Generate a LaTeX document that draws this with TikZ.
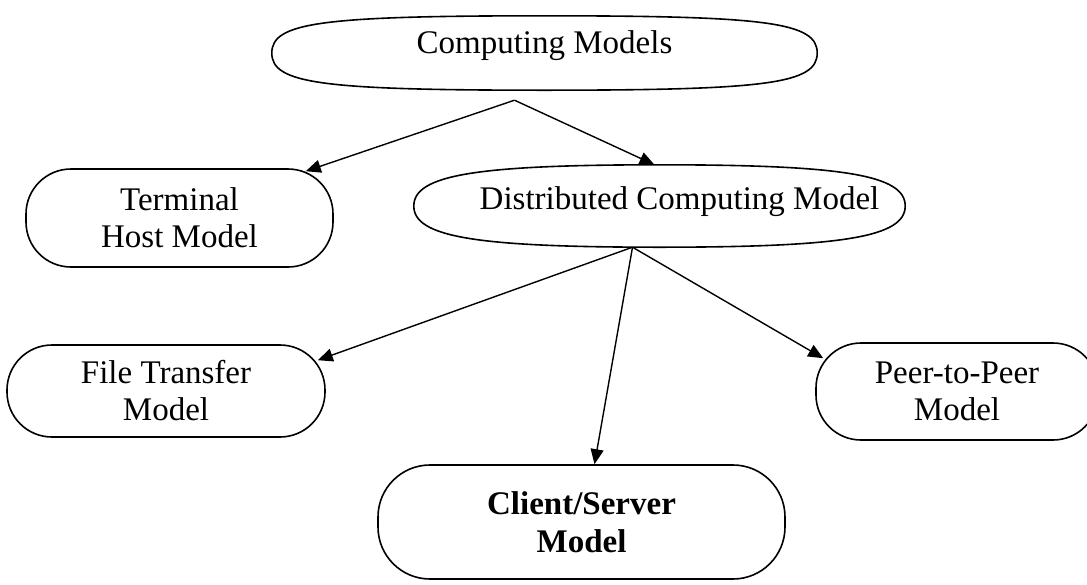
\documentclass[tikz,border=0pt]{standalone}
\usepackage{fontspec}
\setmainfont{Liberation Serif}
\usetikzlibrary{arrows.meta,calc}
\tikzset{
  txt/.style={font=\fontsize{33}{37}\selectfont, align=center, inner sep=0pt},
  pill/.style={txt, draw, line width=1.6pt, rounded corners=45pt},
  ovalbox/.style={txt, draw=none},
  conn/.style={line width=1.4pt, -{Triangle[length=15pt,width=13pt]}},
  outline/.style={line width=1.6pt},
}
\newcommand\superoval[2]{%
  \draw[outline] (#1.west)
    .. controls ($(#1.west)!#2!(#1.north west)$) and ($(#1.north)!#2!(#1.north west)$) .. (#1.north)
    .. controls ($(#1.north)!#2!(#1.north east)$) and ($(#1.east)!#2!(#1.north east)$) .. (#1.east)
    .. controls ($(#1.east)!#2!(#1.south east)$) and ($(#1.south)!#2!(#1.south east)$) .. (#1.south)
    .. controls ($(#1.south)!#2!(#1.south west)$) and ($(#1.west)!#2!(#1.south west)$) .. (#1.west) -- cycle;}
\begin{document}
\begin{tikzpicture}[x=1pt,y=-1pt]
\useasboundingbox (0,0) rectangle (1087,584);
% oval outlines (invisible boxes carry the names)
\node[ovalbox, minimum width=545pt, minimum height=74pt] (cm) at (544.5,53) {};
\node[ovalbox, minimum width=491pt, minimum height=82pt] (dcm) at (659.5,206) {};
\superoval{cm}{0.82}
\superoval{dcm}{0.75}
\node[txt] (cmtext) at ($(cm.center)+(0,-7)$) {Computing Models};
\node[txt] (dcmtext) at ($(dcm.center)+(20,-4)$) {Distributed Computing Model};
% pills
\node[pill, minimum width=307pt, minimum height=98pt] (th) at (179.5,218) {Terminal\\Host Model};
\node[pill, minimum width=318pt, minimum height=92pt] (ftm) at (166,391) {File Transfer\\Model};
\node[pill, minimum width=282pt, minimum height=97pt] (ppm) at (957,391.5) {Peer-to-Peer\\Model};
\node[pill, minimum width=407pt, minimum height=114pt, rounded corners=52pt, font=\fontsize{33}{38}\selectfont\bfseries] (csm) at (581.5,522) {Client/Server\\Model};
% connector ends
\coordinate (cmsrc) at ($(cm.south)+(-30,10)$);
\coordinate (dsrc) at ($(dcm.south)+(-27,0)$);
\draw[conn] (cmsrc) -- ($(th.north east)+(-28,3)$);
\draw[conn] (cmsrc) -- ($(dcm.north)+(-5,0)$);
\draw[conn] (dsrc) -- ($(ftm.north east)+(-8,16)$);
\draw[conn] (dsrc) -- ($(csm.north)+(13,0)$);
\draw[conn] (dsrc) -- ($(ppm.north west)+(8,16)$);
\end{tikzpicture}
\end{document}
